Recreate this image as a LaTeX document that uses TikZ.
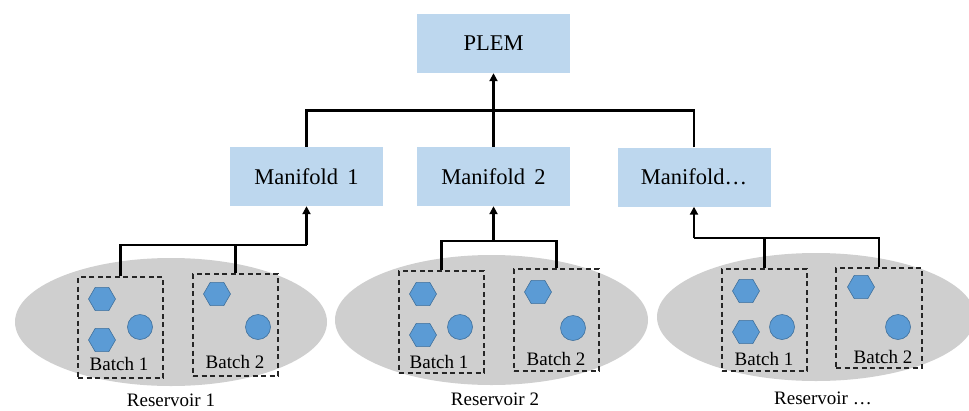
\documentclass[tikz,border=0pt]{standalone}
\usepackage{fontspec}
\setmainfont{Liberation Serif}
\usetikzlibrary{shapes.geometric,arrows.meta}
\definecolor{boxblue}{HTML}{BDD7EE}
\definecolor{resgray}{HTML}{CFCFCF}
\definecolor{itemfill}{HTML}{5B9BD5}
\definecolor{itemline}{HTML}{41719C}
\tikzset{
  bluebox/.style={rectangle, fill=boxblue, minimum width=153pt, minimum height=59pt, inner sep=0pt, font=\fontsize{22.5}{27}\selectfont},
  resell/.style={ellipse, fill=resgray, inner sep=0pt},
  batchbox/.style={rectangle, draw=black!85, dashed, dash pattern=on 5pt off 3.5pt, line width=1.4pt, minimum width=85pt, minimum height=101pt, inner sep=0pt},
  hexa/.style={regular polygon, regular polygon sides=6, minimum size=27pt, inner sep=0pt, fill=itemfill, draw=itemline, line width=0.6pt},
  dot/.style={circle, minimum size=25pt, inner sep=0pt, fill=itemfill, draw=itemline, line width=0.6pt},
  lbl/.style={inner sep=0pt, font=\fontsize{19}{23}\selectfont},
  conn/.style={line width=2.1pt, black},
  arrowc/.style={conn, -{Triangle[length=8pt,width=8pt]}}
}
\begin{document}
\begin{tikzpicture}[x=1pt,y=-1pt]
\useasboundingbox (0,0) rectangle (969,410);
% top boxes
\node[bluebox] (plem) at (493.5,43.5) {PLEM};
\node[bluebox] (m1) at (306.5,176.5) {Manifold\, 1};
\node[bluebox] (m2) at (493.5,176.5) {Manifold\, 2};
\node[bluebox] (m3) at (694,177) {Manifold…};
\coordinate (jt) at (m2.north |- 0,110.5);
\draw[conn] (m1.north) |- (jt);
\draw[conn] (m3.north) |- (jt);
\draw[arrowc] (m2.north) -- (plem.south);

% reservoir 1
\node[resell, minimum width=312pt, minimum height=128pt] (r1) at (171,322) {};
\node[batchbox] (b11) at (120.5,327.5) {};
\node[batchbox, minimum height=102pt] (b12) at (235.5,325) {};
\node[hexa] (h111) at (102,299) {};
\node[hexa] (h112) at (102,340) {};
\node[dot] (c11) at (140,327) {};
\node[lbl] (t11) at (119,364) {Batch 1};
\node[hexa] (h121) at (217,294) {};
\node[dot] (c12) at (258,327) {};
\node[lbl] (t12) at (235,362) {Batch 2};
\node[lbl] (rl1) at (171,400.5) {Reservoir 1};
\coordinate (j1) at (m1.south |- 0,245);
\draw[conn] (b11.north) |- (j1);
\draw[conn] (b12.north) -- (b12.north |- j1);
\draw[arrowc] (j1) -- (m1.south);

% reservoir 2
\node[resell, minimum width=313pt, minimum height=130pt] (r2) at (491.5,320) {};
\node[batchbox, minimum height=102pt] (b21) at (441.5,322) {};
\node[batchbox, minimum height=102pt] (b22) at (556.5,320) {};
\node[hexa] (h211) at (423,294) {};
\node[hexa] (h212) at (423,335) {};
\node[dot] (c21) at (460,327) {};
\node[lbl] (t21) at (439,362) {Batch 1};
\node[hexa] (h221) at (538,292) {};
\node[dot] (c22) at (573,328) {};
\node[lbl] (t22) at (556,359) {Batch 2};
\node[lbl] (rl2) at (495,399) {Reservoir 2};
\coordinate (j2) at (m2.south |- 0,241);
\draw[conn] (b21.north) |- (j2);
\draw[conn] (b22.north) |- (j2);
\draw[arrowc] (j2) -- (m2.south);

% reservoir 3
\node[resell, minimum width=318pt, minimum height=128pt] (r3) at (816,317) {};
\node[batchbox, minimum height=102pt] (b31) at (764.5,320) {};
\node[batchbox, minimum width=86pt, minimum height=100pt] (b32) at (879,318) {};
\node[hexa] (h311) at (746,291) {};
\node[hexa] (h312) at (746,332) {};
\node[dot] (c31) at (782,327) {};
\node[lbl] (t31) at (764,359) {Batch 1};
\node[hexa] (h321) at (861,287) {};
\node[dot] (c32) at (898,327) {};
\node[lbl] (t32) at (883,357) {Batch 2};
\node[lbl] (rl3) at (823,398) {Reservoir …};
\coordinate (j3) at (m3.south |- 0,238);
\draw[conn] (b32.north) |- (j3);
\draw[conn] (b31.north) -- (b31.north |- j3);
\draw[arrowc] (j3) -- (m3.south);
\end{tikzpicture}
\end{document}
